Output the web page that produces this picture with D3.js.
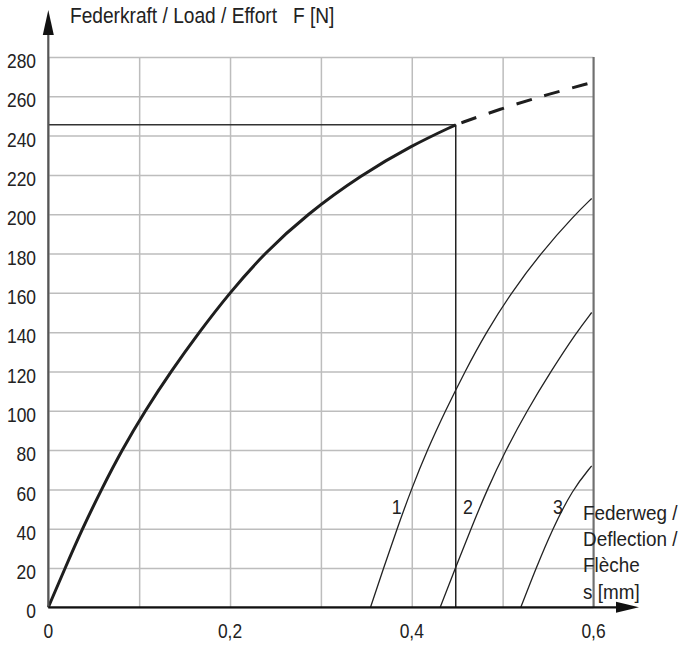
<!DOCTYPE html>
<html>
<head>
<meta charset="utf-8">
<script src="https://cdn.jsdelivr.net/npm/d3@7"></script>
<style>
  body { margin: 0; background: #fff; }
  text { font-family: "Liberation Sans", Arial, sans-serif; fill: #222; white-space: pre; }
  .grid line { stroke: #bdbdbd; stroke-width: 1.5; }
  .grid path { display: none; }
</style>
</head>
<body>
<script>
// tick values
var xTicks = [0, 0.2, 0.4, 0.6];
var xGrid = [0, 0.1, 0.2, 0.3, 0.4, 0.5, 0.6];
var yTicks = [0, 20, 40, 60, 80, 100, 120, 140, 160, 180, 200, 220, 240, 260, 280];

// main spring curve (solid part), s [mm] / F [N]
var mainS = [0, 0.0185, 0.0375, 0.0585, 0.081, 0.1065, 0.135, 0.166, 0.1995, 0.2375, 0.2845, 0.3445, 0.4, 0.4484];
var mainF = [0, 20, 40, 60, 80, 100, 120, 140, 160, 180, 200, 220, 235, 245.5];

// dashed continuation
var dashS = [0.4484, 0.5, 0.55, 0.598];
var dashF = [245.5, 254, 261, 267];

// curves 1, 2, 3
var c1S = [0.3546, 0.369, 0.3838, 0.3995, 0.417, 0.437, 0.4585, 0.482, 0.5095, 0.5415, 0.58, 0.598];
var c1F = [0, 20, 40, 60, 80, 100, 120, 140, 160, 180, 200, 208];
var c2S = [0.4313, 0.448, 0.4652, 0.483, 0.5035, 0.5268, 0.553, 0.5815, 0.598];
var c2F = [0, 20, 40, 60, 80, 100, 120, 140, 150];
var c3S = [0.52, 0.5368, 0.555, 0.577, 0.598];
var c3F = [0, 20, 40, 60, 72];

// working point
var workS = 0.4484, workF = 245.5;

var curveLabels = ["1", "2", "3"];
var curveLabelS = [0.389, 0.4674, 0.5664];
var curveLabelF = [47.5, 47.5, 47.5];

var xLabelLines = ["Federweg /", "Deflection /", "Flèche", "s [mm]"];
var yLabel = "Federkraft / Load / Effort   F [N]";

function zip(a, b){ return a.map(function(v, i){ return [v, b[i]]; }); }

// condensed look: place text then squeeze it horizontally
function squeeze(sel, px, py, k){
    sel.attr("transform", function(d, i){
        var xx = typeof px === "function" ? px(d, i) : px;
        var yy = typeof py === "function" ? py(d, i) : py;
        return "translate(" + xx + "," + yy + ") scale(" + k + ",1)";
    });
}

var w = 692, h = 645;
var svg = d3.select("body").append("svg")
    .attr("width", w)
    .attr("height", h);

var x = d3.scaleLinear().domain([0, 0.6]).range([48.3, 593.5]);
var y = d3.scaleLinear().domain([0, 280]).range([607.3, 57]);

// vertical grid
svg.append("g")
    .attr("class", "grid")
    .attr("transform", "translate(0," + y(0) + ")")
    .call(d3.axisBottom(x).tickValues(xGrid).tickSize(-(y(0) - y(280))).tickFormat(""));

// horizontal grid
svg.append("g")
    .attr("class", "grid")
    .attr("transform", "translate(" + x(0) + ",0)")
    .call(d3.axisLeft(y).tickValues(yTicks).tickSize(-(x(0.6) - x(0))).tickFormat(""));

// right border
svg.append("line")
    .attr("x1", x(0.6)).attr("x2", x(0.6))
    .attr("y1", y(280)).attr("y2", y(0))
    .style("stroke", "#707070")
    .style("stroke-width", 2);

// working point lines
svg.append("line")
    .attr("x1", x(0)).attr("x2", x(workS))
    .attr("y1", y(workF)).attr("y2", y(workF))
    .style("stroke", "#333").style("stroke-width", 1.5);
svg.append("line")
    .attr("x1", x(workS)).attr("x2", x(workS))
    .attr("y1", y(workF)).attr("y2", y(0))
    .style("stroke", "#222").style("stroke-width", 1.5);

//basis curve smooths out small reading errors
var line = d3.line()
    .x(function(d){ return x(d[0]); })
    .y(function(d){ return y(d[1]); })
    .curve(d3.curveBasis);

// main curve
svg.append("path")
    .datum(zip(mainS, mainF))
    .attr("d", line)
    .style("fill", "none")
    .style("stroke", "#1e1e1e")
    .style("stroke-width", 3);

svg.append("path")
    .datum(zip(dashS, dashF))
    .attr("d", line)
    .style("fill", "none")
    .style("stroke", "#1e1e1e")
    .style("stroke-width", 3)
    .style("stroke-dasharray", "16,13")
    .style("stroke-dashoffset", -6);

// thin curves
[zip(c1S, c1F), zip(c2S, c2F), zip(c3S, c3F)].forEach(function(pts){
    svg.append("path")
        .datum(pts)
        .attr("d", line)
        .style("fill", "none")
        .style("stroke", "#222")
        .style("stroke-width", 1.3);
});

// curve labels
svg.selectAll(".clabel")
    .data(curveLabels)
    .enter()
    .append("text")
    .attr("class", "clabel")
    .attr("text-anchor", "end")
    .style("font-size", "21px")
    .text(function(d){ return d; })
    .call(squeeze, function(d, i){ return x(curveLabelS[i]); }, function(d, i){ return y(curveLabelF[i]); }, 0.85);

// y axis line + arrow
svg.append("line")
    .attr("x1", x(0)).attr("x2", x(0))
    .attr("y1", y(0)).attr("y2", 30)
    .style("stroke", "#555").style("stroke-width", 2.2);
svg.append("path")
    .attr("d", "M" + x(0) + ",10 L" + (x(0) - 5.5) + ",35 L" + (x(0) + 5.5) + ",35 Z")
    .style("fill", "#111");

// x axis line + arrow
svg.append("line")
    .attr("x1", x(0)).attr("x2", 622)
    .attr("y1", y(0)).attr("y2", y(0))
    .style("stroke", "#111").style("stroke-width", 2.2);
svg.append("path")
    .attr("d", "M639," + y(0) + " L616," + (y(0) - 5.5) + " L616," + (y(0) + 5.5) + " Z")
    .style("fill", "#111");

// y tick labels
svg.selectAll(".ylab")
    .data(yTicks)
    .enter()
    .append("text")
    .attr("class", "ylab")
    .attr("text-anchor", "end")
    .attr("dy", "0.53em")
    .style("font-size", "21px")
    .text(function(d){ return d; })
    .call(squeeze, 36, function(d){ return y(d); }, 0.83);

// x tick labels
svg.selectAll(".xlab")
    .data(xTicks)
    .enter()
    .append("text")
    .attr("class", "xlab")
    .attr("text-anchor", "middle")
    .style("font-size", "21px")
    .text(function(d){ return d === 0 ? "0" : d3.format(".1f")(d).replace(".", ","); })
    .call(squeeze, function(d){ return x(d); }, 638.3, 0.83);

// axis titles
svg.append("text")
    .style("font-size", "22px")
    .text(yLabel)
    .call(squeeze, 70, 23, 0.87);

svg.selectAll(".xtitle")
    .data(xLabelLines)
    .enter()
    .append("text")
    .attr("class", "xtitle")
    .style("font-size", "21px")
    .text(function(d){ return d; })
    .call(squeeze, 583, function(d, i){ return 520 + i * 26.2; }, 0.9);
</script>
</body>
</html>
